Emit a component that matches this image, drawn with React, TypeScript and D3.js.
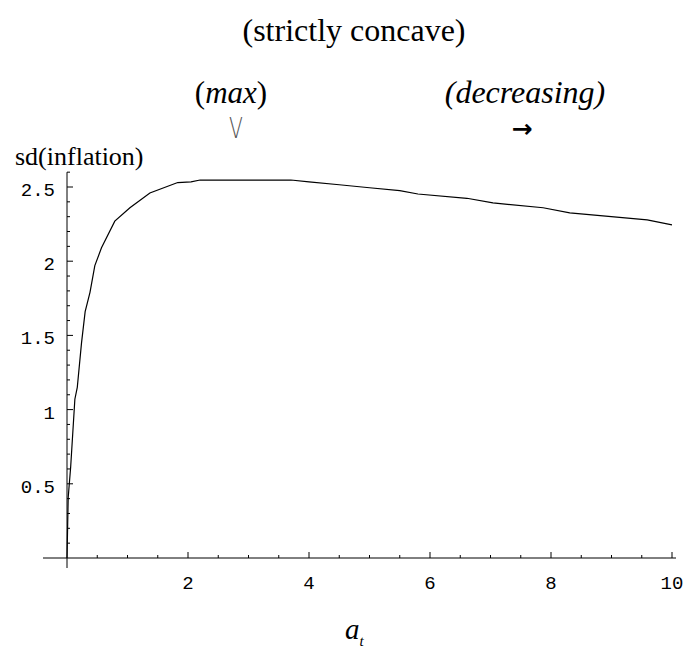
import React, { useEffect, useRef } from "react";
import * as d3 from "d3";

const xValues = [0, 0.02, 0.06, 0.13, 0.17, 0.24, 0.3, 0.38, 0.46, 0.57, 0.79, 1.04, 1.37, 1.83, 2.05, 2.2, 3.0, 3.7, 4.0, 4.5, 5.0, 5.5, 5.8, 6.61, 7.04, 7.87, 8.31, 9.59, 10.0];
const yValues = [0, 0.41, 0.61, 1.07, 1.15, 1.45, 1.66, 1.79, 1.97, 2.09, 2.27, 2.36, 2.46, 2.53, 2.535, 2.547, 2.547, 2.547, 2.535, 2.515, 2.495, 2.475, 2.453, 2.424, 2.393, 2.36, 2.326, 2.279, 2.245];
const xTickLabels = ["2", "4", "6", "8", "10"];
const yTickLabels = ["0.5", "1", "1.5", "2", "2.5"];

export default function App() {
  const ref = useRef<SVGGElement>(null);
  useEffect(() => {
    const g = d3.select(ref.current);
    g.selectAll("*").remove();
    const x = d3.scaleLinear().domain([0, 10]).range([67, 672]);
    const y = d3.scaleLinear().domain([0, 2.5]).range([558, 187]);
    // axes lines
    g.append("line").attr("x1", 43).attr("x2", 676).attr("y1", y(0)).attr("y2", y(0)).attr("stroke", "#000").attr("stroke-width", 1);
    g.append("line").attr("x1", x(0)).attr("x2", x(0)).attr("y1", y(2.6)).attr("y2", 568).attr("stroke", "#000").attr("stroke-width", 1);
    // x ticks
    const xMinor = d3.range(0.5, 10.01, 0.5);
    xMinor.forEach((v) => {
      const major = Math.abs(v % 2) < 1e-6;
      g.append("line").attr("x1", x(v)).attr("x2", x(v)).attr("y1", y(0)).attr("y2", y(0) - (major ? 6 : 3)).attr("stroke", "#000");
    });
    xTickLabels.forEach((t) => {
      g.append("text").attr("x", x(+t)).attr("y", 589).attr("text-anchor", "middle")
        .attr("font-family", "Liberation Mono, monospace").attr("font-size", 19).text(t);
    });
    // y ticks
    const yMinor = d3.range(0.1, 2.61, 0.1);
    yMinor.forEach((v) => {
      const r = Math.round(v * 10);
      const major = r % 5 === 0;
      g.append("line").attr("x1", x(0)).attr("x2", x(0) + (major ? 6 : 3)).attr("y1", y(r / 10)).attr("y2", y(r / 10)).attr("stroke", "#000");
    });
    yTickLabels.forEach((t) => {
      g.append("text").attr("x", 55).attr("y", y(+t) + 9).attr("text-anchor", "end")
        .attr("font-family", "Liberation Mono, monospace").attr("font-size", 19).text(t);
    });
    // curve
    const data = xValues.map((v, i) => [v, yValues[i]] as [number, number]);
    const line = d3.line<[number, number]>().x((d) => x(d[0])).y((d) => y(d[1]));
    g.append("path").attr("d", line(data)).attr("fill", "none").attr("stroke", "#000").attr("stroke-width", 1.2);
  }, []);

  const serif = "Liberation Serif, Times New Roman, serif";
  return (
    <svg width={685} height={670} style={{ position: "absolute", left: 0, top: 0, background: "#fff" }}>
      <g ref={ref} />
      <g>
        <text x={354} y={41} textAnchor="middle" fontFamily={serif} fontSize={32}>(strictly concave)</text>
        <text x={231} y={103} textAnchor="middle" fontFamily={serif} fontSize={31}>
          (<tspan fontStyle="italic">max</tspan>)
        </text>
        <text transform="translate(236,138) scale(0.7,1)" textAnchor="middle" fontFamily="DejaVu Sans, sans-serif" fontSize={29} fill="#555" fontWeight={200}>V</text>
        <text x={525} y={103} textAnchor="middle" fontFamily={serif} fontSize={32} fontStyle="italic">(decreasing)</text>
        <text x={522} y={137} textAnchor="middle" fontFamily="DejaVu Sans, sans-serif" fontSize={25} fontWeight="bold">→</text>
        <text x={15} y={165} fontFamily={serif} fontSize={26}>sd(inflation)</text>
        <text x={345} y={639} fontFamily={serif} fontSize={29} fontStyle="italic">a<tspan dy={7} fontSize={15}>t</tspan></text>
      </g>
    </svg>
  );
}
